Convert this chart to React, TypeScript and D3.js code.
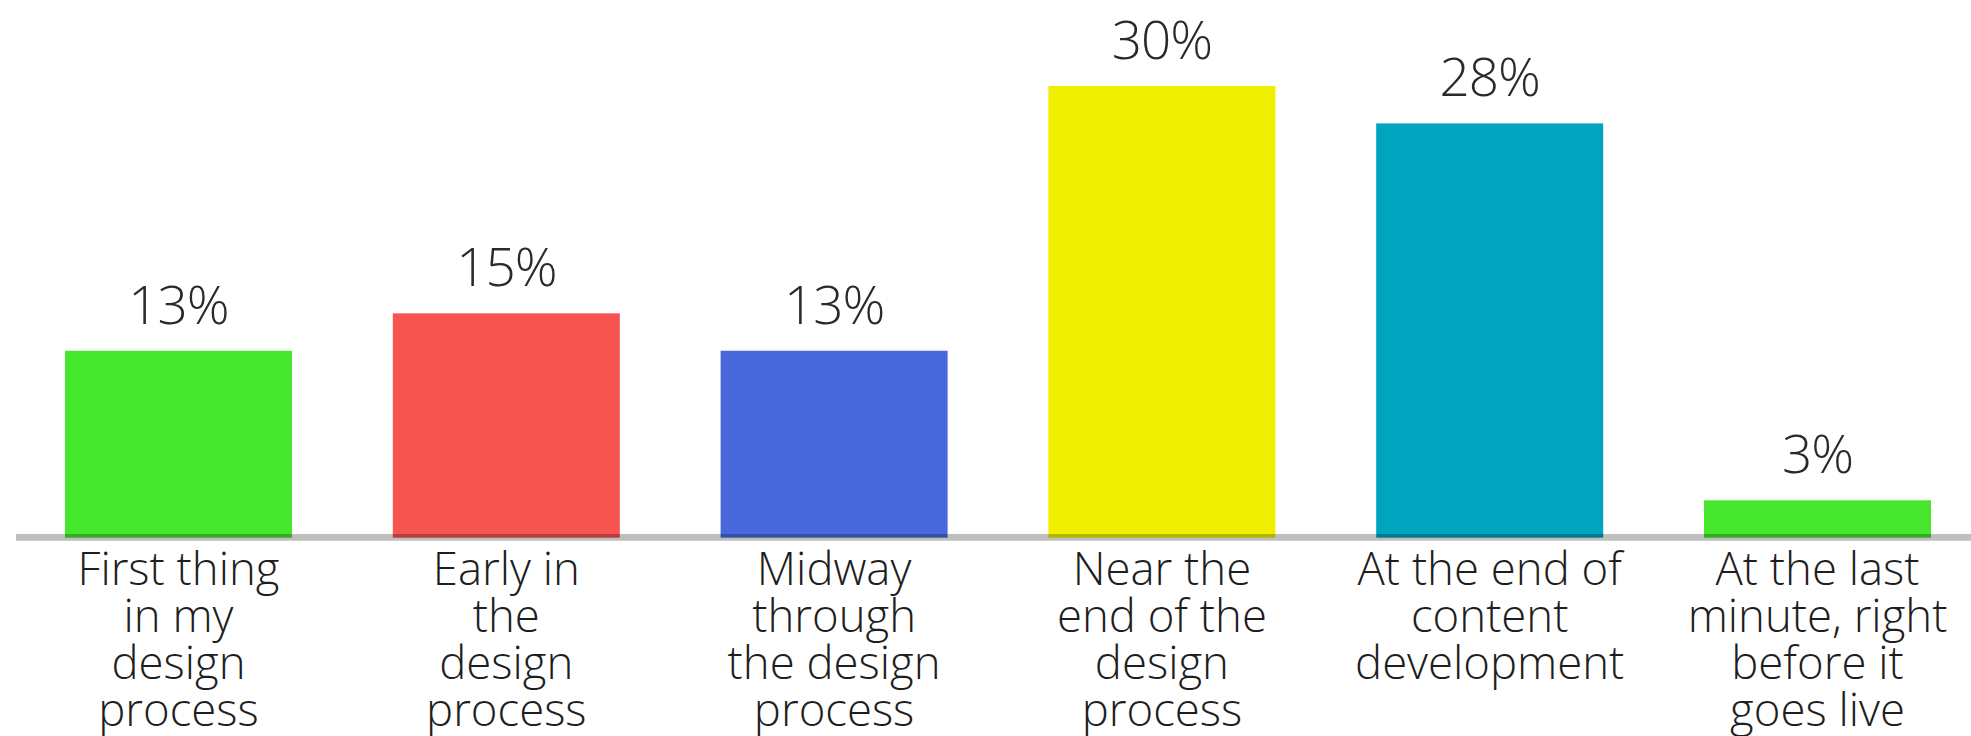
import React from "react";
import * as d3 from "d3";

const categories: string[][] = [
  ["First thing", "in my", "design", "process"],
  ["Early in", "the", "design", "process"],
  ["Midway", "through", "the design", "process"],
  ["Near the", "end of the", "design", "process"],
  ["At the end of", "content", "development"],
  ["At the last", "minute, right", "before it", "goes live"],
];
const values: number[] = [12.5, 15.0, 12.5, 30.2, 27.7, 2.5];
const valueLabels: string[] = ["13%", "15%", "13%", "30%", "28%", "3%"];
const colors: string[] = ["#46E62C", "#F65351", "#4868DC", "#F0EF00", "#00A4BE", "#46E62C"];

const W = 1971;
const H = 736;
const baseY = 537.7;
const topY = 86;

export default function App() {
  const keys = categories.map((_, i) => String(i));
  const step = 327.8;
  const pi = 0.3075;
  const po = 0.2;
  const r0 = 65 - step * po;
  const r1 = r0 + step * (keys.length - pi + 2 * po);
  const x = d3.scaleBand<string>().domain(keys).range([r0, r1]).paddingInner(pi).paddingOuter(po);
  const y = d3.scaleLinear().domain([0, d3.max(values) as number]).range([baseY, topY]);
  const font = "'Open Sans', 'DejaVu Sans', sans-serif";

  return (
    <svg width={W} height={H} style={{ position: "fixed", left: 0, top: 0, background: "#fff" }} fontFamily={font}>
      {values.map((v, i) => {
        const bx = x(keys[i]) as number;
        const bw = x.bandwidth();
        return (
          <g key={i}>
            <rect x={bx} y={y(v)} width={bw} height={baseY - y(v)} fill={colors[i]} />
            <text x={bx + bw / 2} y={y(v) - 27} textAnchor="middle" fontSize={53} fontWeight={300} fill="#2a2a2a" letterSpacing={-1}>
              {valueLabels[i]}
            </text>
            <text x={bx + bw / 2} y={585} textAnchor="middle" fontSize={45.5} fontWeight={300} fill="#1e1e1e">
              {categories[i].map((line, j) => (
                <tspan key={j} x={bx + bw / 2} y={585 + j * 47}>
                  {line}
                </tspan>
              ))}
            </text>
          </g>
        );
      })}
      <line x1={16} x2={W} y1={537.4} y2={537.4} stroke="rgba(0,0,0,0.25)" strokeWidth={6.7} />
    </svg>
  );
}
